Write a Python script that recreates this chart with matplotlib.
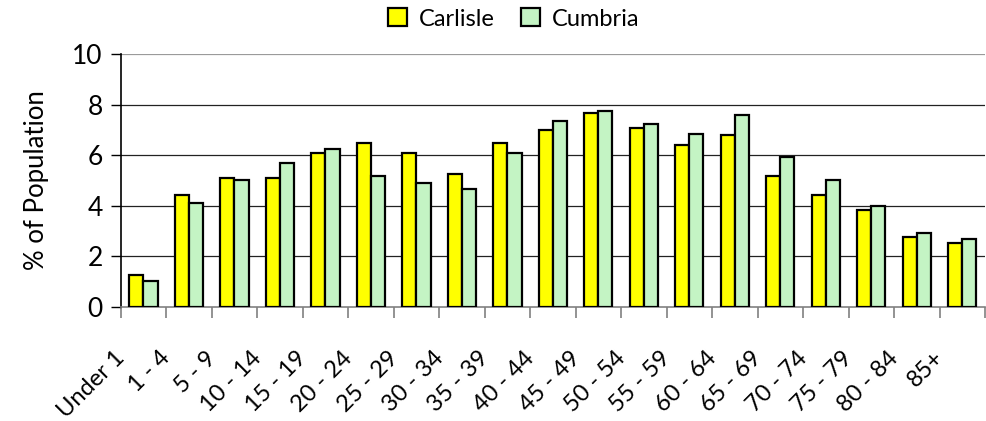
import matplotlib
matplotlib.use("Agg")
import matplotlib.pyplot as plt
from matplotlib.transforms import ScaledTranslation
import numpy as np

plt.rcParams['font.family'] = ['Lato', 'DejaVu Sans']

age_groups = ["Under 1", "1 - 4", "5 - 9", "10 - 14", "15 - 19", "20 - 24", "25 - 29",
              "30 - 34", "35 - 39", "40 - 44", "45 - 49", "50 - 54", "55 - 59", "60 - 64",
              "65 - 69", "70 - 74", "75 - 79", "80 - 84", "85+"]
carlisle = [1.25, 4.43, 5.10, 5.10, 6.08, 6.50, 6.08, 5.26, 6.50, 7.00,
            7.66, 7.08, 6.42, 6.82, 5.18, 4.43, 3.83, 2.76, 2.51]
cumbria = [1.02, 4.10, 5.01, 5.68, 6.26, 5.18, 4.91, 4.68, 6.08, 7.34,
           7.75, 7.24, 6.83, 7.60, 5.92, 5.01, 4.00, 2.93, 2.67]

fig = plt.figure(figsize=(9.86, 4.21), dpi=100)
ax = fig.add_axes([0.1224, 0.2715, 0.8767, 0.5995])

x = np.arange(len(age_groups))
w = 0.31
ax.bar(x - w / 2, carlisle, w, color="#FFFF00", edgecolor="black", linewidth=1.6,
       label="Carlisle", zorder=3)
ax.bar(x + w / 2, cumbria, w, color="#C4F4C4", edgecolor="black", linewidth=1.6,
       label="Cumbria", zorder=3)

ax.set_xlim(-0.5, len(age_groups) - 0.5)
ax.set_ylim(0, 10)
ax.set_yticks([0, 2, 4, 6, 8, 10])
for v in [2, 4, 6, 8]:
    ax.axhline(v, color="#222222", linewidth=0.9, zorder=1)
ax.axhline(10, color="#9a9a9a", linewidth=1.6, zorder=1)

ax.spines["top"].set_visible(False)
ax.spines["right"].set_visible(False)
ax.spines["left"].set_color("black")
ax.spines["left"].set_linewidth(1.2)
ax.spines["bottom"].set_color("#808080")
ax.spines["bottom"].set_linewidth(1.2)

ax.tick_params(axis="y", labelsize=19, length=7, width=1, pad=6, colors="black")
ax.set_xticks(x)
ax.set_xticks(np.arange(len(age_groups) + 1) - 0.5, minor=True)
ax.tick_params(axis="x", which="major", length=0, pad=0)
ax.tick_params(axis="x", which="minor", length=8, width=1.2, color="#808080")
ax.set_xticklabels(age_groups, rotation=45, ha="right", va="center",
                   rotation_mode="anchor", fontsize=17)
offset = ScaledTranslation(-22 / 100, -48 / 100, fig.dpi_scale_trans)
for lab in ax.get_xticklabels():
    lab.set_transform(lab.get_transform() + offset)

ax.set_ylabel("% of Population", fontsize=18.5, labelpad=17)

fig.legend(loc="center", bbox_to_anchor=(0.521, 0.955), ncol=2, frameon=False,
           fontsize=17, handlelength=0.8, handleheight=0.8, handletextpad=0.5,
           columnspacing=1.1)

fig.savefig("out.png", dpi=100)
